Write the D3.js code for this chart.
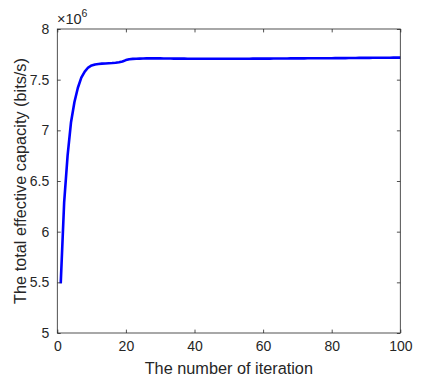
<!DOCTYPE html>
<html><head><meta charset="utf-8">
<script src="https://cdn.jsdelivr.net/npm/d3@7"></script>
<style>body{margin:0;background:#fff}svg{display:block}text{font-family:"Liberation Sans",Arial,sans-serif;fill:#262626}</style>
</head><body><svg id="c" width="443" height="379"></svg>
<script>
const iterations = d3.range(1, 101);
const capacity = [
5.49,6.29,6.75,7.08,7.28,7.42,7.52,7.58,7.62,7.64,
7.650,7.655,7.658,7.660,7.662,7.664,7.667,7.672,7.680,7.693,
7.702,7.705,7.707,7.708,7.709,7.710,7.710,7.710,7.710,7.710,
7.709,7.709,7.709,7.708,7.708,7.708,7.708,7.707,7.707,7.707,
7.707,7.707,7.707,7.707,7.707,7.707,7.707,7.707,7.707,7.707,
7.707,7.707,7.707,7.707,7.707,7.707,7.708,7.708,7.708,7.708,
7.708,7.708,7.709,7.709,7.709,7.709,7.709,7.710,7.710,7.710,
7.710,7.710,7.711,7.711,7.711,7.711,7.712,7.712,7.712,7.712,
7.713,7.713,7.713,7.713,7.714,7.714,7.714,7.715,7.715,7.715,
7.715,7.716,7.716,7.716,7.717,7.717,7.717,7.718,7.718,7.718];
const xTicks = [0,20,40,60,80,100];
const yTicks = [5,5.5,6,6.5,7,7.5,8];
const xLabel = "The number of iteration";
const yLabel = "The total effective capacity (bits/s)";

const svg = d3.select("#c");
const L=57.3, R=400.3, T=29, B=333;
const x = d3.scaleLinear().domain([0,100]).range([L,R]);
const y = d3.scaleLinear().domain([5,8]).range([B,T]);
const ax = "#262626", tl = 3.4;

svg.append("path").datum(iterations.map((d,i)=>[d,capacity[i]]))
  .attr("fill","none").attr("stroke","#0000ff").attr("stroke-width",2.6)
  .attr("stroke-linejoin","round")
  .attr("d", d3.line().x(d=>x(d[0])).y(d=>y(d[1])));

svg.append("rect").attr("x",L).attr("y",T).attr("width",R-L).attr("height",B-T)
  .attr("fill","none").attr("stroke",ax).attr("stroke-width",0.8);

const gx = svg.append("g").attr("transform",`translate(0,${B})`)
  .call(d3.axisBottom(x).tickValues(xTicks).tickSize(-tl).tickFormat(d3.format("d")));
const gxt = svg.append("g").attr("transform",`translate(0,${T})`)
  .call(d3.axisTop(x).tickValues(xTicks).tickSize(-tl).tickFormat(""));
const gy = svg.append("g").attr("transform",`translate(${L},0)`)
  .call(d3.axisLeft(y).tickValues(yTicks).tickSize(-tl).tickPadding(8).tickFormat(d=>String(d)));
const gyr = svg.append("g").attr("transform",`translate(${R},0)`)
  .call(d3.axisRight(y).tickValues(yTicks).tickSize(-tl).tickFormat(""));
[gx,gxt,gy,gyr].forEach(g=>{
  g.select(".domain").remove();
  g.selectAll(".tick line").attr("stroke",ax).attr("stroke-width",0.8);
  g.selectAll("text").attr("font-size",14).attr("fill",ax)
   .style("font-family",'"Liberation Sans",Arial,sans-serif');
});
gx.selectAll("text").attr("dy","0.71em").attr("y",8);

svg.append("text").attr("x",(L+R)/2).attr("y",374).attr("text-anchor","middle")
  .attr("font-size",16.3).text(xLabel);
svg.append("text").attr("transform",`translate(26,${(T+B)/2}) rotate(-90)`)
  .attr("text-anchor","middle").attr("font-size",16.3).text(yLabel);

const ex = svg.append("text").attr("x",57).attr("y",24).attr("font-size",14.5);
ex.append("tspan").text("\u00d710");
ex.append("tspan").attr("dy",-7).attr("font-size",10.5).text("6");
</script></body></html>
